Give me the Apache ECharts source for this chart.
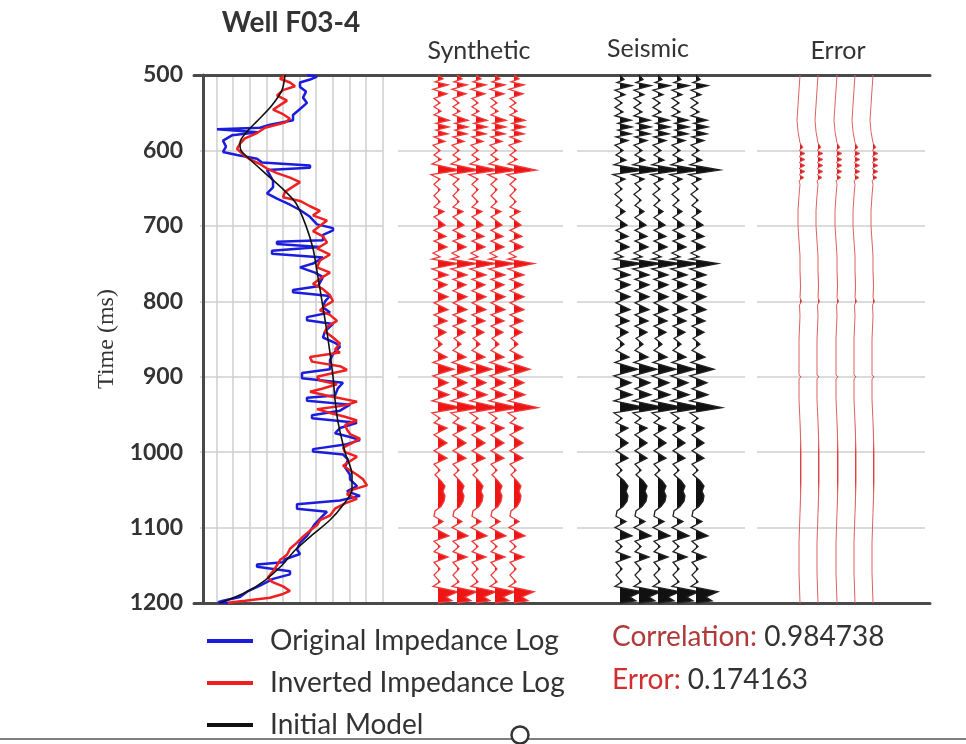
<!DOCTYPE html>
<html><head><meta charset="utf-8">
<script src="https://cdn.jsdelivr.net/npm/echarts@6/dist/echarts.min.js"></script>
<style>html,body{margin:0;padding:0;background:#fff}#c{width:966px;height:744px}</style>
</head><body><div id="c"></div><script>
// ---- Well log data (time in ms, impedance in relative panel units) ----
const origTime = [500,502,506,510,516,522,530,537,545,553,560,566,570,572,574,576,580,587,595,602,606,611,616,620,623,626,640,649,657,664,672,679,688,698,703,706,712,719,721,724,728,733,737,742,750,755,762,768,780,785,788,793,800,808,815,821,825,830,840,848,855,860,870,878,890,895,902,908,915,925,928,932,937,945,951,955,961,968,975,980,984,990,996,999,1003,1010,1020,1030,1036,1045,1052,1058,1064,1069,1075,1079,1084,1095,1105,1111,1120,1129,1135,1142,1146,1149,1152,1158,1162,1168,1177,1185,1192,1197,1199,1200];
const origImp  = [107,117,110,100,100,106,103,107,100,93,93,70,60,17,17,58,32,23,26,23,37,57,62,110,110,67,73,73,67,77,90,100,110,117,133,133,123,123,77,77,120,72,72,123,113,100,115,123,118,93,93,130,125,123,130,107,107,133,125,123,135,140,133,130,130,102,102,143,138,135,107,107,150,140,112,112,157,140,135,150,160,145,113,113,143,148,145,150,150,157,147,160,140,97,97,127,123,115,110,107,100,97,100,85,83,57,57,90,90,73,60,47,40,23,18,30];

const invTime = [500,505,510,515,520,527,534,540,546,552,558,563,570,577,584,591,598,605,612,618,624,630,636,642,648,655,662,667,674,680,686,693,700,707,714,722,730,738,746,755,762,770,777,784,792,800,806,812,818,826,833,840,848,856,864,868,874,880,886,891,896,900,905,910,916,920,926,933,938,943,948,953,958,964,970,976,982,988,994,1000,1006,1012,1018,1024,1030,1036,1044,1050,1056,1062,1068,1075,1084,1090,1097,1104,1112,1120,1128,1136,1143,1150,1158,1166,1172,1178,1184,1188,1193,1197,1199,1200];
const invImp  = [85,80,90,95,83,77,87,80,73,83,90,85,65,57,45,40,37,43,50,60,67,77,90,100,93,85,83,100,110,120,113,127,120,113,123,127,117,130,120,117,130,120,113,123,130,133,125,120,130,137,128,125,133,140,135,140,110,112,140,147,130,117,120,137,122,110,130,157,145,117,130,145,157,145,147,150,160,152,143,145,157,150,143,150,157,163,167,152,147,157,145,135,130,120,117,110,103,97,90,87,80,77,73,68,72,83,90,83,70,45,32,28];

const initTime = [500,520,540,560,575,590,600,612,630,650,670,700,730,760,800,850,900,930,960,1000,1030,1050,1070,1090,1110,1130,1150,1170,1185,1200];
const initImp  = [85,82,72,58,47,40,41,50,65,82,96,106,113,117,122,128,133,135,138,145,152,152,143,130,112,95,82,65,47,20];

// ---- Trace data (time in ms, amplitude in panel units) ----
const synthTraceX = [40, 59, 78, 97, 116];
const synthTime = [500,505,509,513,519,525,531,537,542,548,553,560,564,569,573,578,582,588,593,600,606,612,618,626,632,638,645,652,660,668,675,681,688,699,706,714,720,728,736,741,744,750,757,765,771,778,786,794,802,811,818,826,833,841,849,857,865,874,881,890,899,908,916,924,932,941,948,955,961,968,977,988,998,1008,1016,1024,1030,1038,1045,1052,1058,1065,1072,1078,1085,1092,1100,1111,1118,1125,1132,1139,1146,1155,1163,1172,1178,1185,1192,1197,1200];
const synthAmp  = [0,5,-3,10,-5,9,-4,2,-4,3,-4,11,-2,11,-2,10,-4,7,-5,2,-4,3,-6,22,-7,2,-4,2,-4,2,-4,6,-4,7,-4,8,-4,9,-5,2,-6,20,-6,10,-4,9,-4,10,-4,10,-4,9,-4,8,-3,4,-4,9,-5,16,-5,10,-4,11,-6,24,-6,2,-4,9,-4,9,-4,9,-4,2,-3,3,7,5,7,6,3,-3,-4,5,-5,11,-4,2,-4,10,-4,2,-4,2,-5,20,8,14,0];

const seisTraceX = [43, 62, 81, 100, 119];
const seisTime = [500,506,510,514,520,526,531,537,543,549,554,560,564,569,573,578,582,587,593,600,606,613,619,626,632,638,644,651,658,666,673,681,689,699,706,714,720,728,736,741,744,750,757,765,771,778,786,794,802,811,818,826,833,841,849,857,865,874,881,890,899,908,916,924,932,941,948,955,961,968,977,988,998,1008,1016,1024,1030,1038,1045,1052,1058,1065,1072,1078,1085,1092,1100,1111,1118,1125,1132,1139,1146,1155,1163,1172,1178,1185,1192,1197,1200];
const seisAmp  = [0,4,-3,12,-5,5,-5,2,-5,3,-5,11,-2,12,-2,11,-4,8,-5,3,-4,6,-6,24,-7,5,-4,2,-5,2,-4,5,-4,7,-4,8,-4,9,-5,3,-6,22,-6,10,-4,10,-4,10,-4,10,-4,9,-4,8,-3,4,-4,9,-5,18,-6,11,-4,12,-6,26,-6,2,-4,8,-4,8,-4,8,-4,2,-3,4,8,6,8,7,3,-3,-4,6,-5,12,-4,2,-4,10,-4,2,-4,2,-5,22,10,16,0];

const errTraceX = [43, 61, 80, 98, 116];
const errTime = [500,520,540,560,575,590,596,600,604,608,612,616,620,624,628,632,636,640,645,660,680,700,720,740,760,780,795,800,805,820,850,880,898,900,903,930,960,1000,1040,1080,1120,1160,1200];
const errAmp  = [0,-1,-2,-3,-2,0,3,-1,5,-1,5,-1,5,-1,5,-1,4,-1,0,-1,-2,-2,-1,0,0,0.5,0,1.5,-0.5,0,-1,-1,-1,1,-1,-1,0,1,1,0,-1,-1,0];

const legendNames = ['Original Impedance Log','Inverted Impedance Log','Initial Model'];
const correlationValue = '0.984738';
const errorValue = '0.174163';

const FONT = 'Lato, "Open Sans", sans-serif';
const pairs = (xs, ts) => xs.map((v, i) => [v, ts[i]]);

function traceRender(times, amps, lineColor, fillColor, lw) {
  return function (params, api) {
    const off = api.value(0);
    const line = [], polys = [];
    let cur = null;
    for (let i = 0; i < times.length; i++) {
      const a = amps[i], t = times[i];
      if (i > 0) {
        const a0 = amps[i - 1], t0 = times[i - 1];
        if ((a0 > 0) !== (a > 0)) {
          const f = a0 / (a0 - a);
          const pc = api.coord([off, t0 + f * (t - t0)]);
          if (a0 > 0) { if (cur) { cur.push(pc); polys.push(cur); } cur = null; }
          else { cur = [pc]; }
        }
      }
      const p = api.coord([off + a, t]);
      line.push(p);
      if (a > 0) { if (!cur) cur = [api.coord([off, t])]; cur.push(p); }
    }
    if (cur) { cur.push(api.coord([off, times[times.length - 1]])); polys.push(cur); }
    const children = polys.map(pts => ({ type: 'polygon', shape: { points: pts }, style: { fill: fillColor, stroke: null } }));
    children.push({ type: 'polyline', shape: { points: line }, style: { stroke: lineColor, lineWidth: lw, fill: null } });
    return { type: 'group', children };
  };
}

const gridTop = 75, gridH = 528;
const hiddenX = (gi, min, max) => ({ gridIndex: gi, type: 'value', min, max, show: true, axisLine: { show: false }, axisTick: { show: false }, axisLabel: { show: false }, splitLine: { show: false } });
const panelY = (gi) => ({ gridIndex: gi, type: 'value', inverse: true, min: 500, max: 1200, interval: 100, axisLine: { show: false }, axisTick: { show: false }, axisLabel: { show: false }, splitLine: { show: true, showMinLine: false, showMaxLine: false, lineStyle: { color: '#cfcfcf', width: 1.5 } } });

const option = {
  animation: false,
  backgroundColor: '#fff',
  grid: [
    { left: 194, right: 36, top: gridTop, height: gridH },
    { left: 200, width: 182.6, top: gridTop, height: gridH },
    { left: 398, width: 165, top: gridTop, height: gridH },
    { left: 577, width: 168, top: gridTop, height: gridH },
    { left: 757, width: 168, top: gridTop, height: gridH }
  ],
  xAxis: [
    { gridIndex: 0, type: 'value', position: 'top', min: 0, max: 1, axisLine: { show: true, onZero: false, lineStyle: { color: '#4a4a4a', width: 3 } }, axisTick: { show: false }, axisLabel: { show: false }, splitLine: { show: false } },
    { gridIndex: 0, type: 'value', position: 'bottom', min: 0, max: 1, axisLine: { show: true, onZero: false, lineStyle: { color: '#4a4a4a', width: 3 } }, axisTick: { show: false }, axisLabel: { show: false }, splitLine: { show: false } },
    { gridIndex: 1, type: 'value', min: 0, max: 182.6, interval: 16.6, axisLine: { show: false }, axisTick: { show: false }, axisLabel: { show: false }, splitLine: { show: true, showMinLine: false, lineStyle: { color: '#cfcfcf', width: 1.5 } } },
    hiddenX(2, 0, 165),
    hiddenX(3, 0, 168),
    hiddenX(4, 0, 168)
  ],
  yAxis: [
    { gridIndex: 0, type: 'value', min: 0, max: 1, show: false },
    { gridIndex: 1, type: 'value', inverse: true, min: 500, max: 1200, interval: 100, offset: -3,
      axisLine: { show: true, lineStyle: { color: '#4a4a4a', width: 3 } }, axisTick: { show: false },
      axisLabel: { fontSize: 23, fontWeight: 'bold', color: '#333', fontFamily: FONT, margin: 20, formatter: v => String(v) },
      splitLine: { show: true, showMinLine: false, showMaxLine: false, lineStyle: { color: '#cfcfcf', width: 1.5 } },
      name: 'Time (ms)', nameLocation: 'middle', nameRotate: 90, nameGap: 84,
      nameTextStyle: { fontFamily: '"Liberation Serif", "DejaVu Serif", serif', fontSize: 24, color: '#333' } },
    panelY(2), panelY(3), panelY(4)
  ],
  legend: {
    data: legendNames, orient: 'vertical', left: 202, top: 622, icon: 'rect', itemWidth: 46, itemHeight: 4, itemGap: 14,
    textStyle: { fontFamily: FONT, fontSize: 28, color: '#333', lineHeight: 26, padding: [0, 0, 0, 12] }
  },
  series: [
    { name: legendNames[0], type: 'line', xAxisIndex: 2, yAxisIndex: 1, data: pairs(origImp, origTime), showSymbol: false, symbol: 'none', lineStyle: { color: '#1c1cdc', width: 2.5 }, itemStyle: { color: '#1c1cdc' }, z: 3 },
    { name: legendNames[1], type: 'line', xAxisIndex: 2, yAxisIndex: 1, data: pairs(invImp, invTime), showSymbol: false, symbol: 'none', lineStyle: { color: '#f02020', width: 2.5 }, itemStyle: { color: '#f02020' }, z: 4 },
    { name: legendNames[2], type: 'line', xAxisIndex: 2, yAxisIndex: 1, data: pairs(initImp, initTime), showSymbol: false, symbol: 'none', smooth: 0.3, lineStyle: { color: '#111', width: 1.6 }, itemStyle: { color: '#111' }, z: 5 },
    { type: 'custom', xAxisIndex: 3, yAxisIndex: 2, renderItem: traceRender(synthTime, synthAmp, '#f03a3a', '#ee1515', 1.3), data: synthTraceX.map(x => [x, 500]), encode: { x: 0, y: 1 }, silent: true, clip: false, z: 3 },
    { type: 'custom', xAxisIndex: 4, yAxisIndex: 3, renderItem: traceRender(seisTime, seisAmp, '#222', '#111', 1.3), data: seisTraceX.map(x => [x, 500]), encode: { x: 0, y: 1 }, silent: true, clip: false, z: 3 },
    { type: 'custom', xAxisIndex: 5, yAxisIndex: 4, renderItem: traceRender(errTime, errAmp, '#e06060', '#d82020', 1), data: errTraceX.map(x => [x, 500]), encode: { x: 0, y: 1 }, silent: true, clip: false, z: 3 }
  ],
  graphic: [
    { type: 'text', x: 291, y: 23, style: { text: 'Well F03-4', font: 'bold 28px ' + FONT, fill: '#333', align: 'center', verticalAlign: 'middle' } },
    { type: 'text', x: 479, y: 51, style: { text: 'Synthetic', font: '25px ' + FONT, fill: '#333', align: 'center', verticalAlign: 'middle' } },
    { type: 'text', x: 648, y: 49, style: { text: 'Seismic', font: '25px ' + FONT, fill: '#333', align: 'center', verticalAlign: 'middle' } },
    { type: 'text', x: 838, y: 51, style: { text: 'Error', font: '25px ' + FONT, fill: '#333', align: 'center', verticalAlign: 'middle' } },
    { type: 'text', x: 612, y: 637, style: { text: '{a|Correlation: }{b|' + correlationValue + '}', verticalAlign: 'middle', rich: { a: { fill: '#b03a3a', font: '28px ' + FONT }, b: { fill: '#333', font: '28px ' + FONT } } } },
    { type: 'text', x: 612, y: 680, style: { text: '{a|Error: }{b|' + errorValue + '}', verticalAlign: 'middle', rich: { a: { fill: '#d03030', font: '28px ' + FONT }, b: { fill: '#333', font: '28px ' + FONT } } } },
    { type: 'line', shape: { x1: 0, y1: 739, x2: 966, y2: 739 }, style: { stroke: '#555', lineWidth: 1.5 } },
    { type: 'circle', shape: { cx: 520, cy: 735, r: 8.5 }, style: { fill: '#fff', stroke: '#333', lineWidth: 2.5 } }
  ]
};
const chart = echarts.init(document.getElementById('c'), null, { renderer: 'canvas' });
chart.setOption(option);
</script></body></html>
